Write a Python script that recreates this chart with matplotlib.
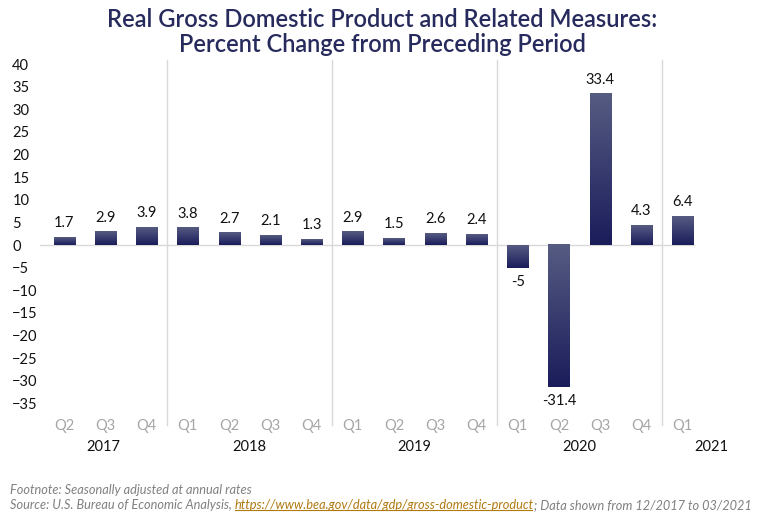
import matplotlib.pyplot as plt
import numpy as np
from matplotlib.colors import LinearSegmentedColormap
from matplotlib.transforms import blended_transform_factory

plt.rcParams['font.family'] = ['Lato', 'DejaVu Sans']

quarters = ['Q2', 'Q3', 'Q4', 'Q1', 'Q2', 'Q3', 'Q4', 'Q1', 'Q2', 'Q3', 'Q4',
            'Q1', 'Q2', 'Q3', 'Q4', 'Q1']
years = ['2017', '2018', '2019', '2020', '2021']
quarters_per_year = [3, 4, 4, 4, 1]
values = [1.7, 2.9, 3.9, 3.8, 2.7, 2.1, 1.3, 2.9, 1.5, 2.6, 2.4,
          -5, -31.4, 33.4, 4.3, 6.4]

navy = '#272a5c'
fig = plt.figure(figsize=(7.64, 5.17), dpi=100)
ax = fig.add_axes([0.0524, 0.203, 0.8573, 0.677])

x = np.arange(len(values))
width = 0.51
xlim = (-0.585, 15.3)
ylim = (-36.9, 40.44)

cmap = LinearSegmentedColormap.from_list('bar', ['#1b1d5b', '#565b82'])
grad = np.linspace(0, 1, 64).reshape(-1, 1)
for xi, v in zip(x, values):
    lo, hi = min(0, v), max(0, v)
    ax.imshow(grad, cmap=cmap, aspect='auto', origin='lower',
              extent=(xi - width / 2, xi + width / 2, lo, hi), zorder=2)
    if v >= 0:
        ax.text(xi, v + 1.6, f'{v:g}', ha='center', va='bottom', fontsize=10.5, color='#111111')
    else:
        ax.text(xi, v - 1.6, f'{v:g}', ha='center', va='top', fontsize=10.5, color='#111111')

ax.set_xlim(*xlim)
ax.set_ylim(*ylim)
ax.axhline(0, color='#d9d9d9', lw=1, zorder=1)

for s in ax.spines.values():
    s.set_visible(False)

ax.set_yticks(np.arange(-35, 41, 5))
ax.tick_params(axis='y', length=0, pad=20, labelsize=10.5, labelcolor='#111111')
for lbl in ax.get_yticklabels():
    lbl.set_horizontalalignment('left')

ax.set_xticks(x)
ax.set_xticklabels(quarters)
ax.tick_params(axis='x', length=0, pad=5, labelsize=10.5, labelcolor='#a6a6a6')

# year separators and group labels
trans = blended_transform_factory(ax.transData, ax.transAxes)
bounds = [xlim[0]]
pos = -0.5
for n in quarters_per_year:
    pos += n
    bounds.append(pos)
bounds[-1] = 16.9
for b in bounds[1:-1]:
    ax.plot([b, b], [1.005, -0.037], color='#d9d9d9', lw=1, transform=trans, clip_on=False)
for yr, a, b in zip(years, bounds[:-1], bounds[1:]):
    ax.text((a + b) / 2, -0.10, yr, transform=trans, ha='center', va='center',
            fontsize=10.5, color='#111111')

fig.text(0.5, 0.985, 'Real Gross Domestic Product and Related Measures:\nPercent Change from Preceding Period',
         ha='center', va='top', fontsize=17, fontweight='semibold', color=navy, linespacing=1.1)

fs = 9.2
fig.text(0.013, 0.052, 'Footnote: Seasonally adjusted at annual rates', fontsize=fs,
         style='italic', color='#808080', va='center')
t1 = fig.text(0.013, 0.023, 'Source: U.S. Bureau of Economic Analysis, ', fontsize=fs,
              style='italic', color='#808080', va='center')
fig.canvas.draw()
r = fig.canvas.get_renderer()
bb = t1.get_window_extent(r)
t2 = fig.text(bb.x1 / fig.bbox.width, 0.023, 'https://www.bea.gov/data/gdp/gross-domestic-product',
              fontsize=fs, style='italic', color='#b07a10', va='center')
bb2 = t2.get_window_extent(r)
fig.add_artist(plt.Line2D([bb2.x0 / fig.bbox.width, (bb2.x1 - 2) / fig.bbox.width],
                          [bb2.y0 / fig.bbox.height + 0.003] * 2, color='#b07a10', lw=0.8))
fig.text((bb2.x1 + 0.5) / fig.bbox.width, 0.023, '; Data shown from 12/2017 to 03/2021', fontsize=fs,
         style='italic', color='#808080', va='center')

fig.savefig('out.png', dpi=100)
